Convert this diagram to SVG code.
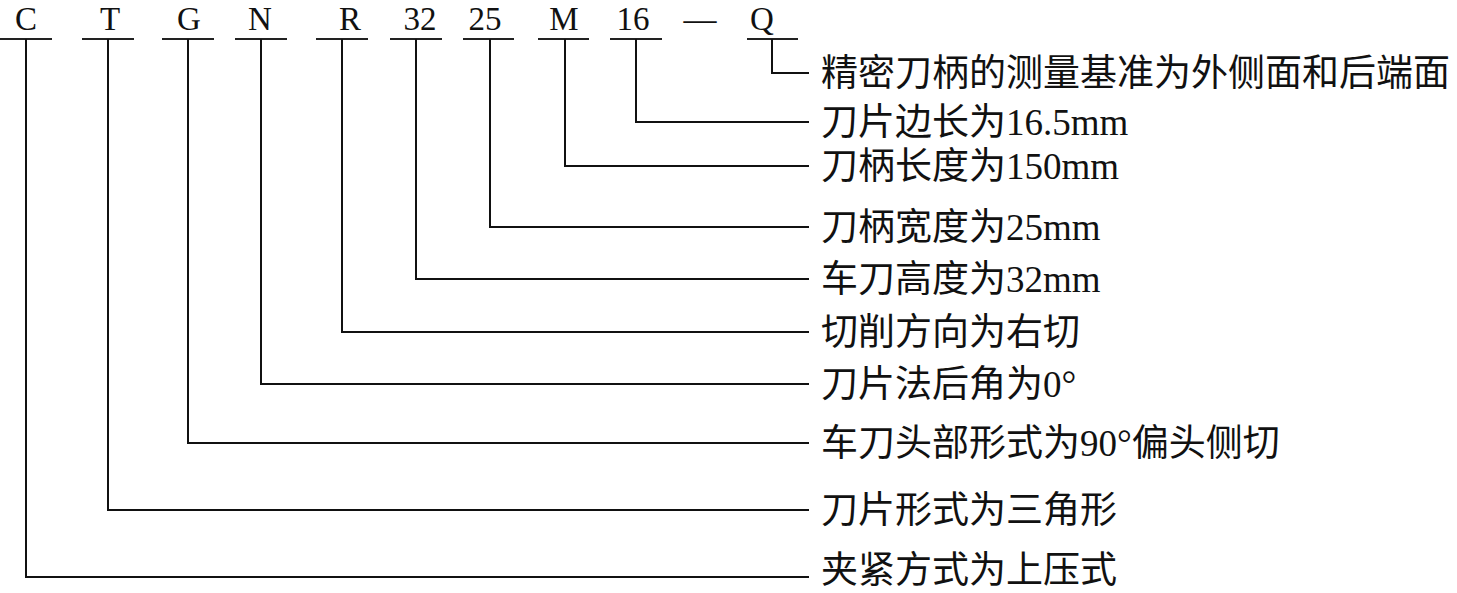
<svg xmlns="http://www.w3.org/2000/svg" width="1457" height="593" viewBox="0 0 1457 593">
<style>
.code{font-family:"Liberation Serif","Noto Sans CJK SC",serif;font-size:33px;fill:#111;text-anchor:middle}
.lbl{font-family:"Liberation Serif","Noto Sans CJK SC",serif;font-size:37px;fill:#111}
.ul{stroke:#222;stroke-width:2;fill:none}
.conn path{stroke:#111;stroke-width:2;fill:none}
</style>
<rect width="1457" height="593" fill="#fff"/>
<g id="code-C"><text class="code" x="26" y="30">C</text><line class="ul" x1="0" y1="39" x2="52" y2="39"/></g>
<g id="code-T"><text class="code" x="110" y="30">T</text><line class="ul" x1="82" y1="39" x2="134" y2="39"/></g>
<g id="code-G"><text class="code" x="189" y="30">G</text><line class="ul" x1="162" y1="39" x2="214" y2="39"/></g>
<g id="code-N"><text class="code" x="260" y="30">N</text><line class="ul" x1="235" y1="39" x2="287" y2="39"/></g>
<g id="code-R"><text class="code" x="350" y="30">R</text><line class="ul" x1="316" y1="39" x2="368" y2="39"/></g>
<g id="code-32"><text class="code" x="420" y="30">32</text><line class="ul" x1="390" y1="39" x2="442" y2="39"/></g>
<g id="code-25"><text class="code" x="485" y="30">25</text><line class="ul" x1="463" y1="39" x2="514" y2="39"/></g>
<g id="code-M"><text class="code" x="564" y="30">M</text><line class="ul" x1="538" y1="39" x2="589" y2="39"/></g>
<g id="code-16"><text class="code" x="633" y="30">16</text><line class="ul" x1="610" y1="39" x2="662" y2="39"/></g>
<g id="code-dash"><text class="code" x="700" y="30">—</text></g>
<g id="code-Q"><text class="code" x="762" y="30">Q</text><line class="ul" x1="747" y1="39" x2="798" y2="39"/></g>

<g id="connectors" class="conn">
<path d="M772 39V73H809"/>
<path d="M636 39V122H809"/>
<path d="M565 39V166H809"/>
<path d="M490 39V227H809"/>
<path d="M416 39V279H809"/>
<path d="M342 39V332H809"/>
<path d="M261 39V384H809"/>
<path d="M188 39V443H809"/>
<path d="M108 39V510H809"/>
<path d="M26 39V577H809"/>
</g>

<g id="label-Q"><text class="lbl" x="821" y="86">精密刀柄的测量基准为外侧面和后端面</text></g>
<g id="label-16"><text class="lbl" x="821" y="135">刀片边长为16.5mm</text></g>
<g id="label-M"><text class="lbl" x="821" y="179">刀柄长度为150mm</text></g>
<g id="label-25"><text class="lbl" x="821" y="240">刀柄宽度为25mm</text></g>
<g id="label-32"><text class="lbl" x="821" y="292">车刀高度为32mm</text></g>
<g id="label-R"><text class="lbl" x="821" y="345">切削方向为右切</text></g>
<g id="label-N"><text class="lbl" x="821" y="397">刀片法后角为0°</text></g>
<g id="label-G"><text class="lbl" x="821" y="456">车刀头部形式为90°偏头侧切</text></g>
<g id="label-T"><text class="lbl" x="821" y="523">刀片形式为三角形</text></g>
<g id="label-C"><text class="lbl" x="821" y="583">夹紧方式为上压式</text></g>
</svg>
